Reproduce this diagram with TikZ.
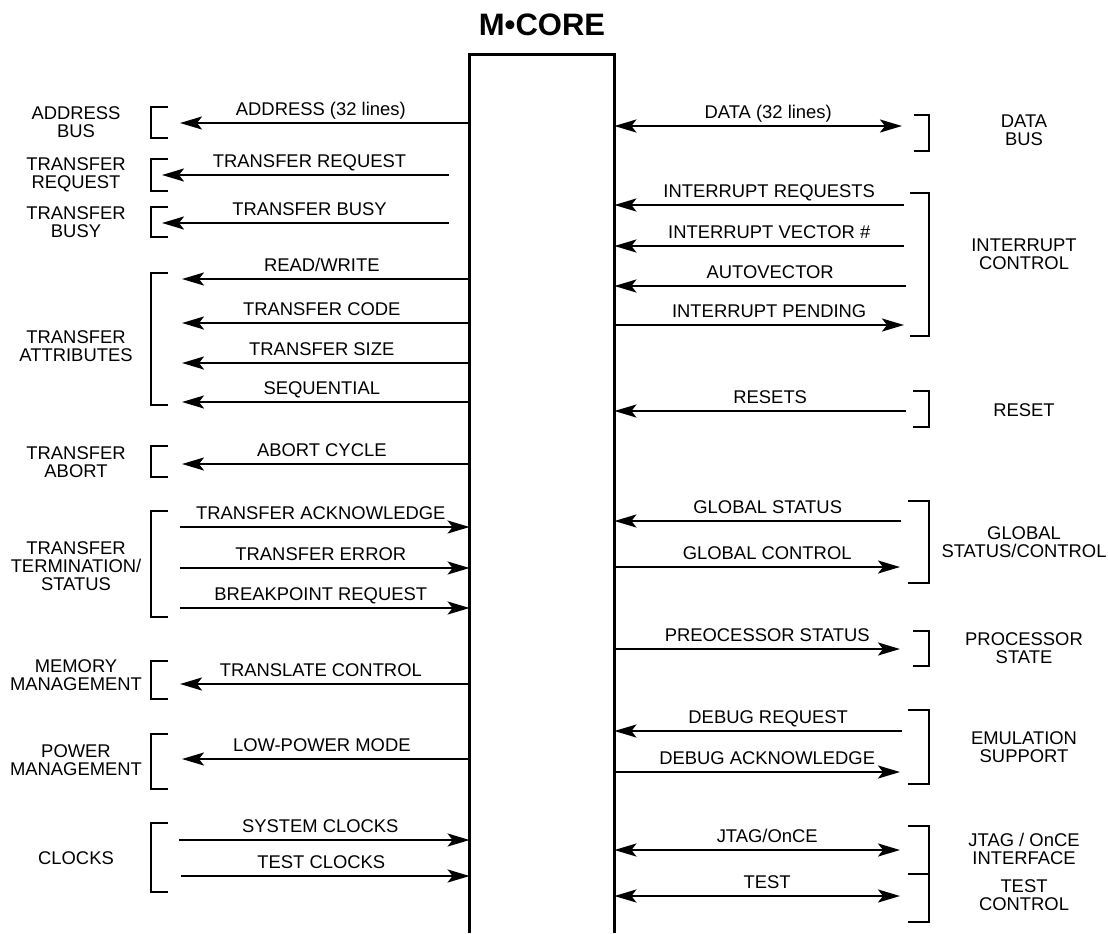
\documentclass[tikz,border=0pt]{standalone}
\usepackage{fontspec}
\setmainfont{Liberation Sans}
\usetikzlibrary{arrows.meta}

\begin{document}
\begin{tikzpicture}[
    x=0.5pt, y=-0.5pt,
    >={Stealth[length=11pt, width=6.5pt, inset=2.5pt]},
    % Styles
    corebox/.style={minimum width=72pt, minimum height=439pt, inner sep=0pt},
    coreline/.style={line width=1.5pt},
    sig/.style={->, line width=1.1pt},
    bisig/.style={<->, line width=1.1pt},
    lsiglabel/.style={font=\fontsize{9.2}{9}\selectfont, midway, anchor=base, yshift=4pt, xshift=-2pt, inner sep=0pt},
    rsiglabel/.style={font=\fontsize{9.2}{9}\selectfont, midway, anchor=base, yshift=4pt, xshift=5pt, inner sep=0pt},
    grouplabel/.style={font=\fontsize{9.2}{9}\selectfont, align=center, inner sep=0pt},
    bracketline/.style={line width=1.1pt},
    coretitle/.style={font=\fontsize{15.5}{16}\selectfont\bfseries, anchor=base}
  ]

    \useasboundingbox (0,0) rectangle (1108,933);

    % --- Core block, open at the bottom ---
    \node (core) [corebox] at (542,494) {};
    \draw[coreline] (core.south west) |- (core.north east) -- (core.south east);
    \node (title) [coretitle] at (542,35) {M•CORE};

    % --- Left side group labels ---
    \node (addrbus)   [grouplabel] at (76,122) {ADDRESS\\BUS};
    \node (xferreq)   [grouplabel] at (76,175) {TRANSFER\\REQUEST};
    \node (xferbusy)  [grouplabel] at (76,222) {TRANSFER\\BUSY};
    \node (xferattr)  [grouplabel] at (76,346) {TRANSFER\\ATTRIBUTES};
    \node (xferabort) [grouplabel] at (76,462) {TRANSFER\\ABORT};
    \node (xferterm)  [grouplabel] at (76,566) {TRANSFER\\TERMINATION/\\STATUS};
    \node (memmgmt)   [grouplabel] at (76,675) {MEMORY\\MANAGEMENT};
    \node (pwrmgmt)   [grouplabel] at (76,760) {POWER\\MANAGEMENT};
    \node (clocks)    [grouplabel] at (76,858) {CLOCKS};

    % --- Left side brackets ---
    \draw[bracketline] (168,107) -| (151,138) -- (168,138);
    \draw[bracketline] (168,159) -| (151,191) -- (168,191);
    \draw[bracketline] (168,207) -| (151,237) -- (168,237);
    \draw[bracketline] (168,273) -| (151,405) -- (168,405);
    \draw[bracketline] (168,446) -| (151,477) -- (168,477);
    \draw[bracketline] (168,511) -| (151,617) -- (168,617);
    \draw[bracketline] (168,661) -| (151,699) -- (168,699);
    \draw[bracketline] (168,734) -| (151,789) -- (168,789);
    \draw[bracketline] (168,823) -| (151,892) -- (168,892);

    % --- Left side signals ---
    \coordinate (addr) at (180,123);
    \draw[sig] (core.west |- addr) -- (addr) node[lsiglabel] {ADDRESS (32 lines)};
    \coordinate (treqsrc) at (449,175);
    \coordinate (treq) at (162,175);
    \draw[sig] (treqsrc) -- (treq) node[lsiglabel, xshift=4pt] {TRANSFER REQUEST};
    \coordinate (tbusysrc) at (449,223);
    \coordinate (tbusy) at (162,223);
    \draw[sig] (tbusysrc) -- (tbusy) node[lsiglabel, xshift=4pt] {TRANSFER BUSY};
    \coordinate (rw) at (182,279);
    \draw[sig] (core.west |- rw) -- (rw) node[lsiglabel] {READ/WRITE};
    \coordinate (tcode) at (182,323);
    \draw[sig] (core.west |- tcode) -- (tcode) node[lsiglabel] {TRANSFER CODE};
    \coordinate (tsize) at (182,363);
    \draw[sig] (core.west |- tsize) -- (tsize) node[lsiglabel] {TRANSFER SIZE};
    \coordinate (seq) at (182,402);
    \draw[sig] (core.west |- seq) -- (seq) node[lsiglabel] {SEQUENTIAL};
    \coordinate (abort) at (182,464);
    \draw[sig] (core.west |- abort) -- (abort) node[lsiglabel] {ABORT CYCLE};
    \coordinate (tack) at (180,527);
    \draw[sig] (tack) -- (tack -| core.west) node[lsiglabel] {TRANSFER ACKNOWLEDGE};
    \coordinate (terr) at (180,568);
    \draw[sig] (terr) -- (terr -| core.west) node[lsiglabel] {TRANSFER ERROR};
    \coordinate (bkpt) at (180,608);
    \draw[sig] (bkpt) -- (bkpt -| core.west) node[lsiglabel] {BREAKPOINT REQUEST};
    \coordinate (xlate) at (180,684);
    \draw[sig] (core.west |- xlate) -- (xlate) node[lsiglabel] {TRANSLATE CONTROL};
    \coordinate (lpmd) at (182,759);
    \draw[sig] (core.west |- lpmd) -- (lpmd) node[lsiglabel] {LOW-POWER MODE};
    \coordinate (sysclk) at (179,840);
    \draw[sig] (sysclk) -- (sysclk -| core.west) node[lsiglabel] {SYSTEM CLOCKS};
    \coordinate (tstclk) at (181,876);
    \draw[sig] (tstclk) -- (tstclk -| core.west) node[lsiglabel] {TEST CLOCKS};

    % --- Right side group labels ---
    \node (databus)   [grouplabel] at (1024,130) {DATA\\BUS};
    \node (intctrl)   [grouplabel] at (1024,254) {INTERRUPT\\CONTROL};
    \node (reset)     [grouplabel] at (1024,410) {RESET};
    \node (globalsc)  [grouplabel] at (1024,542) {GLOBAL\\STATUS/CONTROL};
    \node (procstate) [grouplabel] at (1024,648) {PROCESSOR\\STATE};
    \node (emusup)    [grouplabel] at (1024,747) {EMULATION\\SUPPORT};
    \node (jtagif)    [grouplabel] at (1024,849) {JTAG / OnCE\\INTERFACE};
    \node (testctrl)  [grouplabel] at (1024,895) {TEST\\CONTROL};

    % --- Right side brackets ---
    \draw[bracketline] (914,115) -| (929,151) -- (914,151);
    \draw[bracketline] (910,193) -| (929,336) -- (910,336);
    \draw[bracketline] (913,391) -| (929,427) -- (913,427);
    \draw[bracketline] (908,501) -| (929,583) -- (908,583);
    \draw[bracketline] (913,631) -| (929,666) -- (913,666);
    \draw[bracketline] (908,710) -| (929,784) -- (908,784);
    \draw[bracketline] (908,826) -| (929,874) -- (908,874);
    \draw[bracketline] (908,874) -| (929,922) -- (908,922);

    % --- Right side signals ---
    \coordinate (data) at (902,126);
    \draw[bisig] (core.east |- data) -- (data) node[rsiglabel] {DATA (32 lines)};
    \coordinate (intreq) at (904,205);
    \draw[sig] (intreq) -- (intreq -| core.east) node[rsiglabel] {INTERRUPT REQUESTS};
    \coordinate (intvec) at (904,246);
    \draw[sig] (intvec) -- (intvec -| core.east) node[rsiglabel] {INTERRUPT VECTOR \#};
    \coordinate (autovec) at (906,286);
    \draw[sig] (autovec) -- (autovec -| core.east) node[rsiglabel] {AUTOVECTOR};
    \coordinate (intpend) at (904,325);
    \draw[sig] (core.east |- intpend) -- (intpend) node[rsiglabel] {INTERRUPT PENDING};
    \coordinate (resets) at (906,411);
    \draw[sig] (resets) -- (resets -| core.east) node[rsiglabel] {RESETS};
    \coordinate (gstat) at (901,521);
    \draw[sig] (gstat) -- (gstat -| core.east) node[rsiglabel] {GLOBAL STATUS};
    \coordinate (gctrl) at (900,567);
    \draw[sig] (core.east |- gctrl) -- (gctrl) node[rsiglabel] {GLOBAL CONTROL};
    \coordinate (pstat) at (900,649);
    \draw[sig] (core.east |- pstat) -- (pstat) node[rsiglabel] {PREOCESSOR STATUS};
    \coordinate (dbgreq) at (902,731);
    \draw[sig] (dbgreq) -- (dbgreq -| core.east) node[rsiglabel] {DEBUG REQUEST};
    \coordinate (dbgack) at (900,772);
    \draw[sig] (core.east |- dbgack) -- (dbgack) node[rsiglabel] {DEBUG ACKNOWLEDGE};
    \coordinate (jtag) at (900,850);
    \draw[bisig] (core.east |- jtag) -- (jtag) node[rsiglabel] {JTAG/OnCE};
    \coordinate (test) at (900,896);
    \draw[bisig] (core.east |- test) -- (test) node[rsiglabel] {TEST};

  \end{tikzpicture}
\end{document}
